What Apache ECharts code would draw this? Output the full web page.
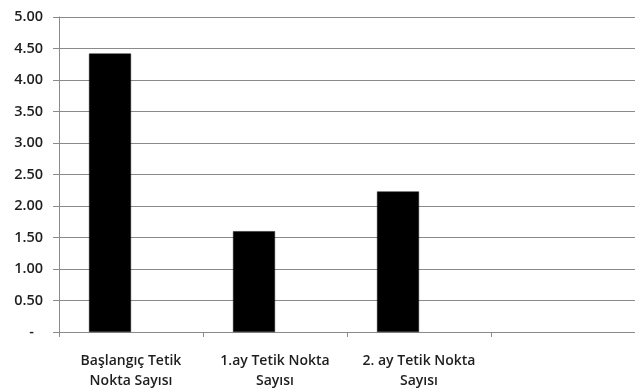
<!DOCTYPE html>
<html>
<head>
<meta charset="utf-8">
<script src="https://cdn.jsdelivr.net/npm/echarts@6/dist/echarts.min.js"></script>
<style>
  html, body { margin: 0; padding: 0; background: #ffffff; }
  #chart { width: 635px; height: 391px; }
</style>
</head>
<body>
<div id="chart"></div>
<script>
// Category labels (the fourth slot is left empty)
const categories = [
  'Başlangıç Tetik\nNokta Sayısı',
  '1.ay Tetik Nokta\nSayısı',
  '2. ay Tetik Nokta\nSayısı',
  ''
];
// Mean trigger point counts
const values = [4.42, 1.60, 2.23, null];
// Second, empty series of the clustered layout
const emptySeries = [null, null, null, null];
// Value axis range
const yMin = 0;
const yMax = 5;
const yStep = 0.5;

const font = '"Open Sans", "DejaVu Sans", sans-serif';
const gridColor = '#8a8a8a';
const textColor = '#1e1e1e';

const chart = echarts.init(document.getElementById('chart'), null, { renderer: 'canvas' });
chart.setOption({
  animation: false,
  backgroundColor: '#ffffff',
  grid: { left: 59, top: 17, bottom: 57, right: -5, containLabel: false },
  xAxis: {
    type: 'category',
    data: categories,
    boundaryGap: true,
    axisLine: { show: true, lineStyle: { color: gridColor, width: 1 } },
    axisTick: { show: true, alignWithLabel: false, length: 5, lineStyle: { color: gridColor } },
    axisLabel: {
      interval: 0,
      margin: 19,
      fontFamily: font,
      fontSize: 14,
      fontWeight: 600,
      color: textColor,
      lineHeight: 20
    }
  },
  yAxis: {
    type: 'value',
    min: yMin,
    max: yMax,
    interval: yStep,
    axisLine: { show: true, lineStyle: { color: gridColor, width: 1 } },
    axisTick: { show: true, length: 6, lineStyle: { color: gridColor } },
    splitLine: { show: true, lineStyle: { color: gridColor, width: 1.2 } },
    axisLabel: {
      margin: 16,
      fontFamily: font,
      fontSize: 14.5,
      fontWeight: 600,
      color: textColor,
      formatter: function (v) {
        return v === 0 ? '{z|-}' : v.toFixed(2);
      },
      rich: {
        z: { fontFamily: font, fontSize: 14.5, fontWeight: 600, color: textColor, padding: [0, 9, 0, 0] }
      }
    }
  },
  series: [
    {
      type: 'bar',
      data: values,
      barWidth: 42,
      barGap: '0%',
      itemStyle: { color: '#000000', borderColor: '#1a1a1a', borderWidth: 0.5 }
    },
    {
      type: 'bar',
      data: emptySeries,
      barWidth: 42,
      barGap: '0%',
      itemStyle: { color: '#000000' }
    }
  ]
});
</script>
</body>
</html>
